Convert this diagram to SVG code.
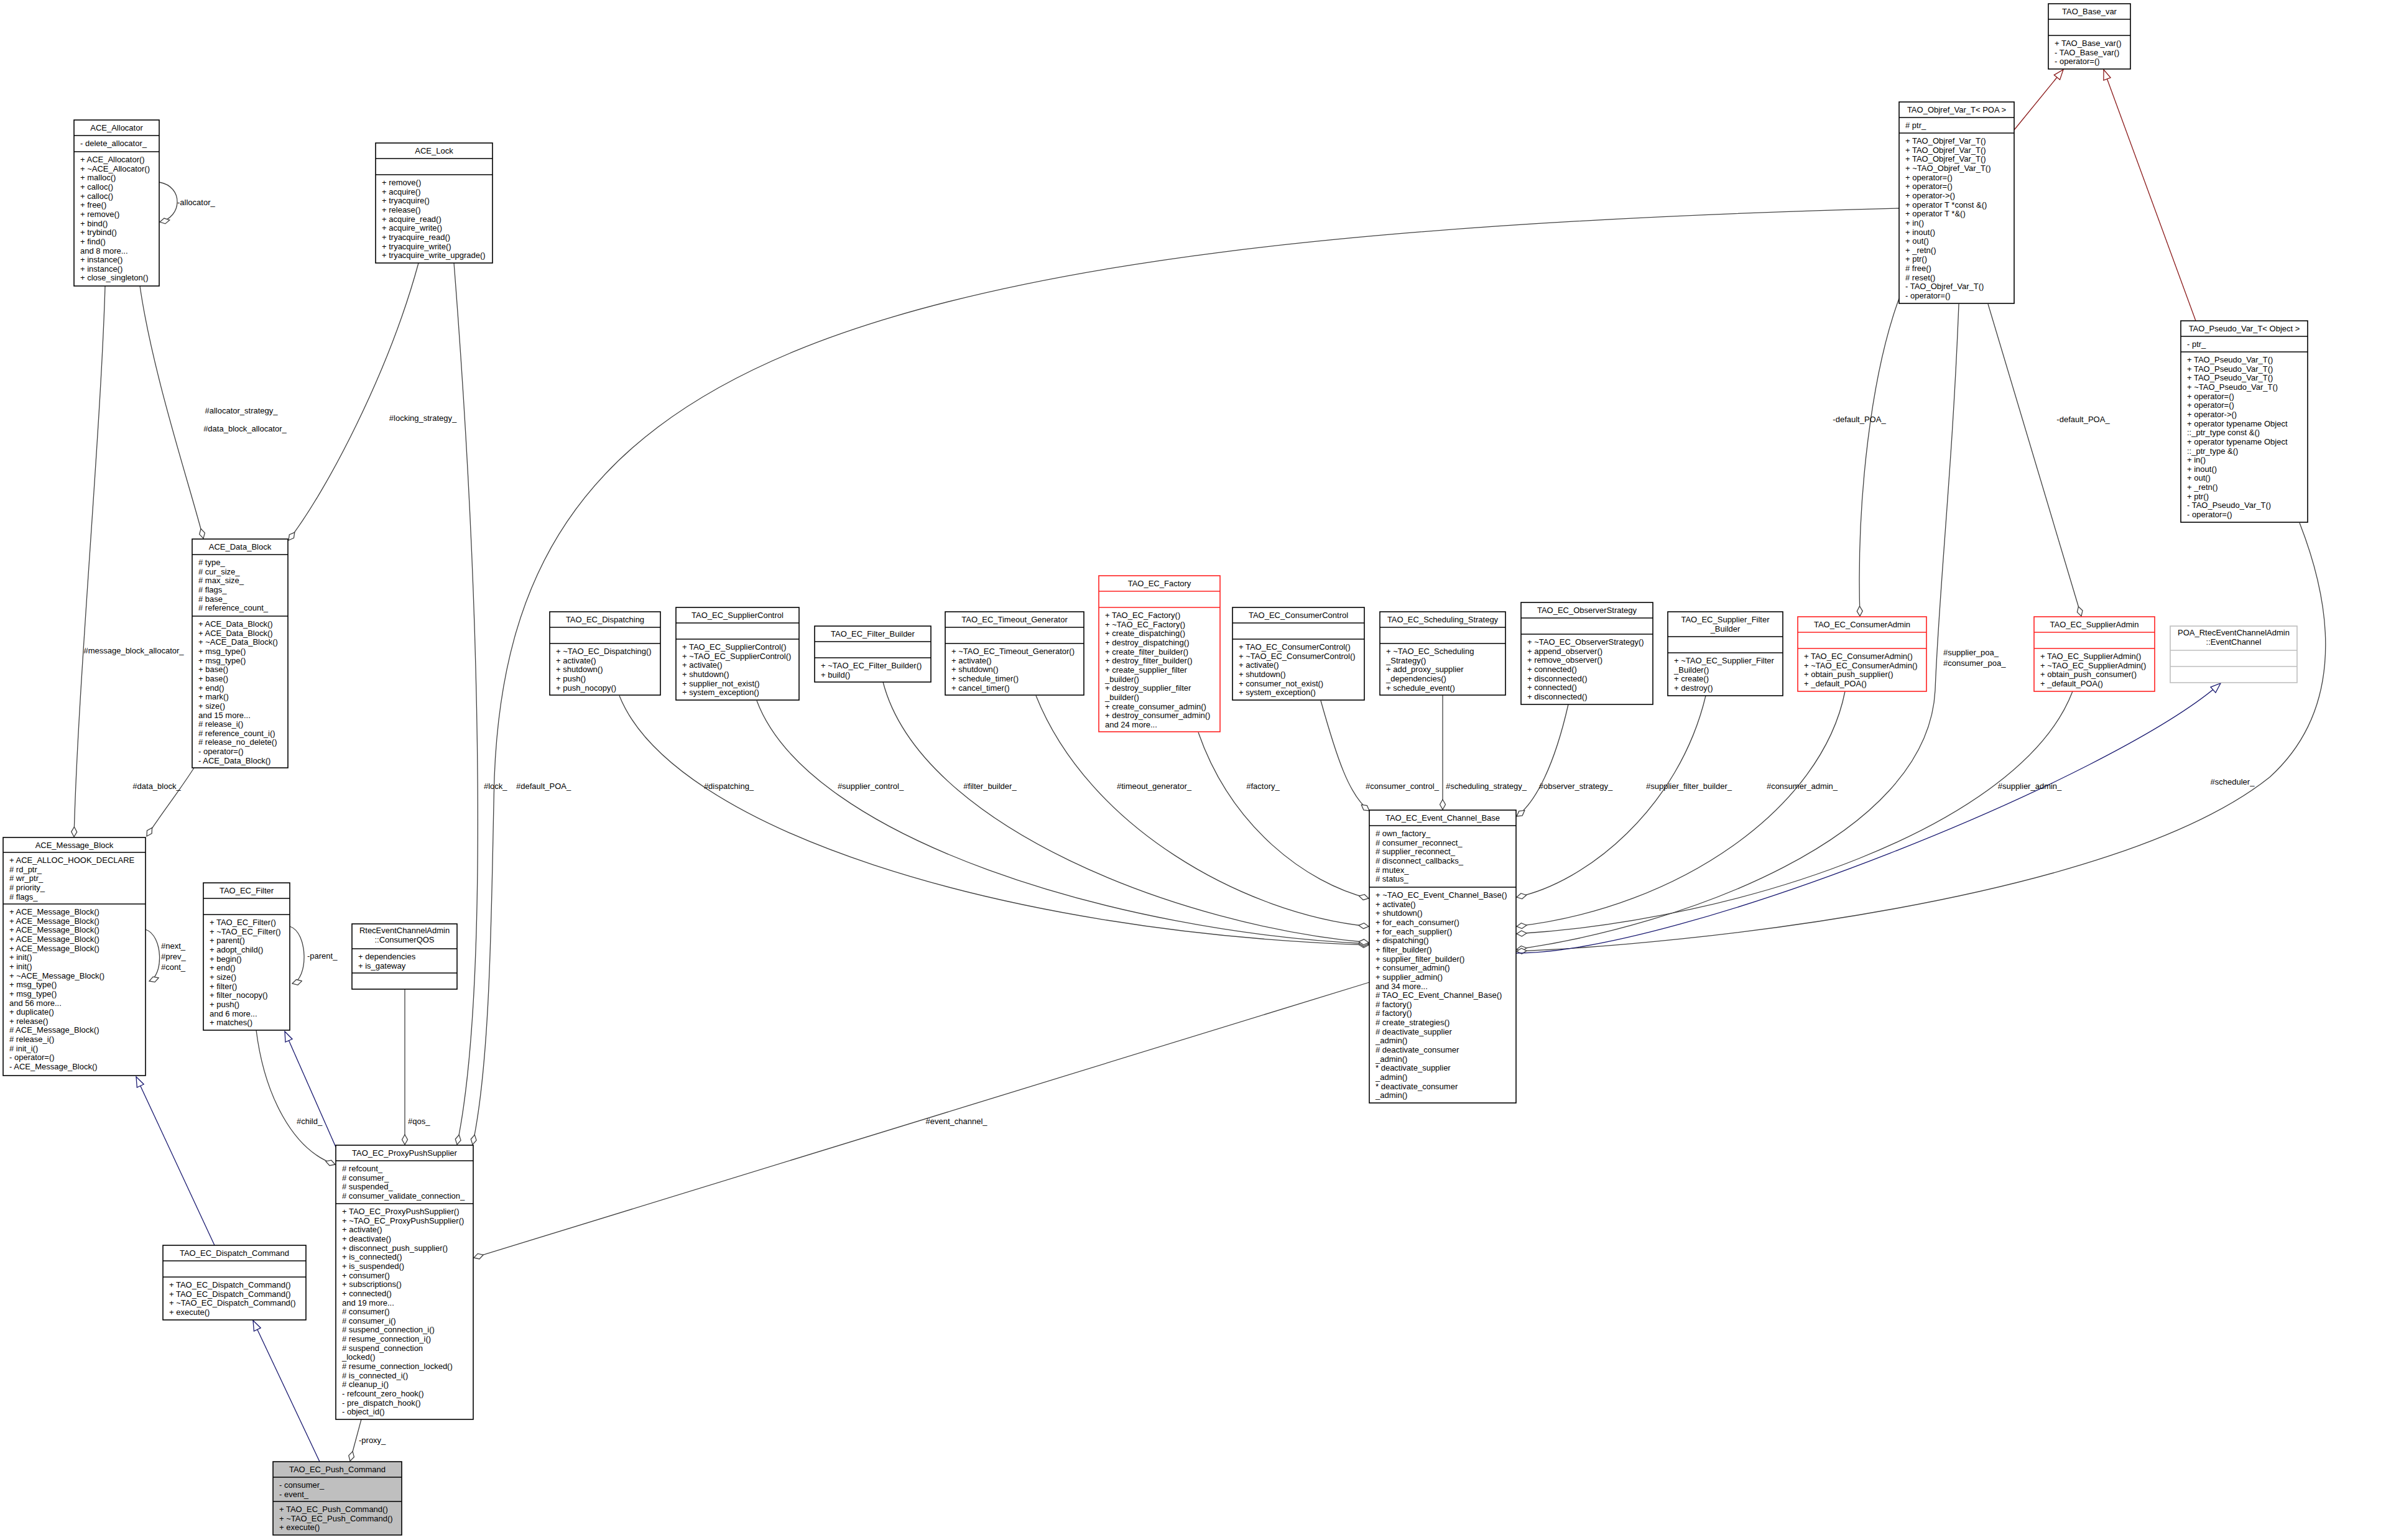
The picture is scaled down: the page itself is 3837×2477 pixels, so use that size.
<svg xmlns="http://www.w3.org/2000/svg" width="3837" height="2477" viewBox="0 0 3837 2477">
<style>
text{font-family:"Liberation Sans",Arial,sans-serif;font-size:13px;fill:#000}
.c{text-anchor:middle}
.n rect{fill:#fff;stroke:#000;stroke-width:1.6}
.n path{stroke:#000;stroke-width:1.6;fill:none}
.r rect{stroke:#ff2020}
.r path{stroke:#ff2020}
.gy rect{stroke:#bfbfbf}
.gy path{stroke:#bfbfbf}
.cur rect{fill:#bfbfbf}
.e path{fill:none;stroke:#404040;stroke-width:1.3}
.e path.b{stroke:#191970}
.e path.rd{stroke:#8b1a1a}
.e text{font-size:13px}
</style>
<defs>
<marker id="ad" markerUnits="userSpaceOnUse" markerWidth="18" markerHeight="12" viewBox="-1 -1 18 12" refX="16" refY="5" orient="auto"><path d="M0,5 L8,0.5 L16,5 L8,9.5 Z" fill="#fff" stroke="#404040" stroke-width="1.3"/></marker>
<marker id="tb" markerUnits="userSpaceOnUse" markerWidth="18" markerHeight="14" viewBox="-1 -1 18 14" refX="16" refY="6" orient="auto"><path d="M0,0 L16,6 L0,12 Z" fill="#fff" stroke="#191970" stroke-width="1.3"/></marker>
<marker id="tr" markerUnits="userSpaceOnUse" markerWidth="18" markerHeight="14" viewBox="-1 -1 18 14" refX="16" refY="6" orient="auto"><path d="M0,0 L16,6 L0,12 Z" fill="#fff" stroke="#8b1a1a" stroke-width="1.3"/></marker>
</defs>
<rect width="3837" height="2477" fill="#fff"/>

<g id="edges" class="e">
<path d="M256,293 C296,300 293,350 257,357" marker-end="url(#ad)"/>
<text x="285" y="330">-allocator_</text>
<path d="M225,460 C245,600 305,780 327,866" marker-end="url(#ad)"/>
<text class="c" x="388" y="665">#allocator_strategy_</text>
<text class="c" x="394" y="694">#data_block_allocator_</text>
<path d="M169,460 C162,700 125,1100 119,1346" marker-end="url(#ad)"/>
<text class="c" x="215" y="1051">#message_block_allocator_</text>
<path d="M673,423 C625,600 525,790 464,869" marker-end="url(#ad)"/>
<text class="c" x="680" y="677">#locking_strategy_</text>
<path d="M730,423 C775,1000 785,1600 735,1841" marker-end="url(#ad)"/>
<text x="778" y="1269">#lock_</text>
<path d="M3054,335 C1300,380 820,600 795,1250 C790,1450 790,1700 760,1841" marker-end="url(#ad)"/>
<text x="830" y="1269">#default_POA_</text>
<path d="M312,1235 C290,1270 255,1315 236,1345" marker-end="url(#ad)"/>
<text class="c" x="252" y="1269">#data_block_</text>
<path d="M234,1495 C263,1505 263,1570 240,1578" marker-end="url(#ad)"/>
<text x="259" y="1526">#next_</text>
<text x="259" y="1543">#prev_</text>
<text x="259" y="1560">#cont_</text>
<path d="M466,1490 C496,1500 496,1575 470,1582" marker-end="url(#ad)"/>
<text x="494" y="1542">-parent_</text>
<path d="M412,1657 C425,1760 470,1850 539,1873" marker-end="url(#ad)"/>
<text x="477" y="1808">#child_</text>
<path class="b" d="M540,1845 L458,1659" marker-end="url(#tb)"/>
<path d="M651,1591 L651,1841" marker-end="url(#ad)"/>
<text x="656" y="1808">#qos_</text>
<path class="b" d="M345,2003 L219,1732" marker-end="url(#tb)"/>
<path class="b" d="M514,2351 L407,2124" marker-end="url(#tb)"/>
<path d="M581,2283 L563,2350" marker-end="url(#ad)"/>
<text x="577" y="2321">-proxy_</text>
<path d="M2202,1580 L762,2023" marker-end="url(#ad)"/>
<text class="c" x="1538" y="1808">#event_channel_</text>
<path d="M3054,480 C3010,600 2985,800 2991,991" marker-end="url(#ad)"/>
<text class="c" x="2990" y="679">-default_POA_</text>
<path d="M3197,489 L3347,991" marker-end="url(#ad)"/>
<text class="c" x="3350" y="679">-default_POA_</text>
<path d="M3150,489 C3140,750 3118,950 3112,1110 C3100,1350 2700,1490 2439,1527" marker-end="url(#ad)"/>
<text x="3125" y="1054">#supplier_poa_</text>
<text x="3125" y="1071">#consumer_poa_</text>
<path d="M3698,841 C3760,1000 3760,1150 3650,1250 C3400,1450 2700,1520 2439,1530" marker-end="url(#ad)"/>
<text class="c" x="3590" y="1262">#scheduler_</text>
<path class="b" d="M2438,1533 C2700,1533 3400,1250 3571,1099" marker-end="url(#tb)"/>
<path class="rd" d="M3239,209 L3318,112" marker-end="url(#tr)"/>
<path class="rd" d="M3531,516 L3383,112" marker-end="url(#tr)"/>
<path d="M996,1119 C1080,1330 1600,1500 2201,1520" marker-end="url(#ad)"/>
<text class="c" x="1172" y="1269">#dispatching_</text>
<path d="M1217,1127 C1300,1350 1800,1500 2201,1518" marker-end="url(#ad)"/>
<text class="c" x="1400" y="1269">#supplier_control_</text>
<path d="M1420,1097 C1480,1330 1900,1490 2201,1516" marker-end="url(#ad)"/>
<text class="c" x="1592" y="1269">#filter_builder_</text>
<path d="M1666,1119 C1750,1330 2000,1470 2201,1490" marker-end="url(#ad)"/>
<text class="c" x="1856" y="1269">#timeout_generator_</text>
<path d="M1927,1178 C1980,1330 2100,1420 2201,1445" marker-end="url(#ad)"/>
<text class="c" x="2031" y="1269">#factory_</text>
<path d="M2124,1127 C2150,1220 2170,1280 2202,1304" marker-end="url(#ad)"/>
<text class="c" x="2255" y="1269">#consumer_control_</text>
<path d="M2320,1118 L2320,1302" marker-end="url(#ad)"/>
<text class="c" x="2390" y="1269">#scheduling_strategy_</text>
<path d="M2522,1133 C2500,1230 2470,1290 2439,1313" marker-end="url(#ad)"/>
<text class="c" x="2534" y="1269">#observer_strategy_</text>
<path d="M2743,1119 C2700,1300 2550,1420 2439,1443" marker-end="url(#ad)"/>
<text class="c" x="2716" y="1269">#supplier_filter_builder_</text>
<path d="M2967,1112 C2930,1300 2700,1460 2439,1490" marker-end="url(#ad)"/>
<text class="c" x="2898" y="1269">#consumer_admin_</text>
<path d="M3333,1112 C3250,1330 2800,1480 2439,1502" marker-end="url(#ad)"/>
<text class="c" x="3264" y="1269">#supplier_admin_</text>
</g>

<g id="ACE_Allocator" class="n">
<rect x="119" y="193" width="137" height="267"/>
<path d="M119,218 H256 M119,244 H256"/>
<text class="c" x="187.5" y="210">ACE_Allocator</text>
<text x="129" y="235">- delete_allocator_</text>
<text x="129" y="261"><tspan x="129" dy="0">+ ACE_Allocator()</tspan><tspan x="129" dy="14.65">+ ~ACE_Allocator()</tspan><tspan x="129" dy="14.65">+ malloc()</tspan><tspan x="129" dy="14.65">+ calloc()</tspan><tspan x="129" dy="14.65">+ calloc()</tspan><tspan x="129" dy="14.65">+ free()</tspan><tspan x="129" dy="14.65">+ remove()</tspan><tspan x="129" dy="14.65">+ bind()</tspan><tspan x="129" dy="14.65">+ trybind()</tspan><tspan x="129" dy="14.65">+ find()</tspan><tspan x="129" dy="14.65">and 8 more...</tspan><tspan x="129" dy="14.65">+ instance()</tspan><tspan x="129" dy="14.65">+ instance()</tspan><tspan x="129" dy="14.65">+ close_singleton()</tspan></text>
</g>

<g id="ACE_Lock" class="n">
<rect x="604" y="230" width="188" height="193"/>
<path d="M604,255 H792 M604,281 H792"/>
<text class="c" x="698" y="247">ACE_Lock</text>
<text x="614" y="298"><tspan x="614" dy="0">+ remove()</tspan><tspan x="614" dy="14.65">+ acquire()</tspan><tspan x="614" dy="14.65">+ tryacquire()</tspan><tspan x="614" dy="14.65">+ release()</tspan><tspan x="614" dy="14.65">+ acquire_read()</tspan><tspan x="614" dy="14.65">+ acquire_write()</tspan><tspan x="614" dy="14.65">+ tryacquire_read()</tspan><tspan x="614" dy="14.65">+ tryacquire_write()</tspan><tspan x="614" dy="14.65">+ tryacquire_write_upgrade()</tspan></text>
</g>

<g id="ACE_Data_Block" class="n">
<rect x="309" y="867" width="154" height="368"/>
<path d="M309,892 H463 M309,991 H463"/>
<text class="c" x="386" y="884">ACE_Data_Block</text>
<text x="319" y="909"><tspan x="319" dy="0"># type_</tspan><tspan x="319" dy="14.65"># cur_size_</tspan><tspan x="319" dy="14.65"># max_size_</tspan><tspan x="319" dy="14.65"># flags_</tspan><tspan x="319" dy="14.65"># base_</tspan><tspan x="319" dy="14.65"># reference_count_</tspan></text>
<text x="319" y="1008"><tspan x="319" dy="0">+ ACE_Data_Block()</tspan><tspan x="319" dy="14.65">+ ACE_Data_Block()</tspan><tspan x="319" dy="14.65">+ ~ACE_Data_Block()</tspan><tspan x="319" dy="14.65">+ msg_type()</tspan><tspan x="319" dy="14.65">+ msg_type()</tspan><tspan x="319" dy="14.65">+ base()</tspan><tspan x="319" dy="14.65">+ base()</tspan><tspan x="319" dy="14.65">+ end()</tspan><tspan x="319" dy="14.65">+ mark()</tspan><tspan x="319" dy="14.65">+ size()</tspan><tspan x="319" dy="14.65">and 15 more...</tspan><tspan x="319" dy="14.65"># release_i()</tspan><tspan x="319" dy="14.65"># reference_count_i()</tspan><tspan x="319" dy="14.65"># release_no_delete()</tspan><tspan x="319" dy="14.65">- operator=()</tspan><tspan x="319" dy="14.65">- ACE_Data_Block()</tspan></text>
</g>

<g id="ACE_Message_Block" class="n">
<rect x="5" y="1347" width="229" height="383"/>
<path d="M5,1371 H234 M5,1454 H234"/>
<text class="c" x="119.5" y="1364">ACE_Message_Block</text>
<text x="15" y="1388"><tspan x="15" dy="0">+ ACE_ALLOC_HOOK_DECLARE</tspan><tspan x="15" dy="14.65"># rd_ptr_</tspan><tspan x="15" dy="14.65"># wr_ptr_</tspan><tspan x="15" dy="14.65"># priority_</tspan><tspan x="15" dy="14.65"># flags_</tspan></text>
<text x="15" y="1471"><tspan x="15" dy="0">+ ACE_Message_Block()</tspan><tspan x="15" dy="14.65">+ ACE_Message_Block()</tspan><tspan x="15" dy="14.65">+ ACE_Message_Block()</tspan><tspan x="15" dy="14.65">+ ACE_Message_Block()</tspan><tspan x="15" dy="14.65">+ ACE_Message_Block()</tspan><tspan x="15" dy="14.65">+ init()</tspan><tspan x="15" dy="14.65">+ init()</tspan><tspan x="15" dy="14.65">+ ~ACE_Message_Block()</tspan><tspan x="15" dy="14.65">+ msg_type()</tspan><tspan x="15" dy="14.65">+ msg_type()</tspan><tspan x="15" dy="14.65">and 56 more...</tspan><tspan x="15" dy="14.65">+ duplicate()</tspan><tspan x="15" dy="14.65">+ release()</tspan><tspan x="15" dy="14.65"># ACE_Message_Block()</tspan><tspan x="15" dy="14.65"># release_i()</tspan><tspan x="15" dy="14.65"># init_i()</tspan><tspan x="15" dy="14.65">- operator=()</tspan><tspan x="15" dy="14.65">- ACE_Message_Block()</tspan></text>
</g>

<g id="TAO_EC_Filter" class="n">
<rect x="327" y="1420" width="139" height="237"/>
<path d="M327,1445 H466 M327,1471 H466"/>
<text class="c" x="396.5" y="1437">TAO_EC_Filter</text>
<text x="337" y="1488"><tspan x="337" dy="0">+ TAO_EC_Filter()</tspan><tspan x="337" dy="14.65">+ ~TAO_EC_Filter()</tspan><tspan x="337" dy="14.65">+ parent()</tspan><tspan x="337" dy="14.65">+ adopt_child()</tspan><tspan x="337" dy="14.65">+ begin()</tspan><tspan x="337" dy="14.65">+ end()</tspan><tspan x="337" dy="14.65">+ size()</tspan><tspan x="337" dy="14.65">+ filter()</tspan><tspan x="337" dy="14.65">+ filter_nocopy()</tspan><tspan x="337" dy="14.65">+ push()</tspan><tspan x="337" dy="14.65">and 6 more...</tspan><tspan x="337" dy="14.65">+ matches()</tspan></text>
</g>

<g id="ConsumerQOS" class="n">
<rect x="566" y="1486" width="169" height="105"/>
<path d="M566,1526 H735 M566,1565 H735"/>
<text class="c" x="650.5" y="1501">RtecEventChannelAdmin</text>
<text class="c" x="650.5" y="1516">::ConsumerQOS</text>
<text x="576" y="1543"><tspan x="576" dy="0">+ dependencies</tspan><tspan x="576" dy="14.65">+ is_gateway</tspan></text>
</g>

<g id="TAO_EC_ProxyPushSupplier" class="n">
<rect x="540" y="1842" width="221" height="441"/>
<path d="M540,1867 H761 M540,1936 H761"/>
<text class="c" x="650.5" y="1859">TAO_EC_ProxyPushSupplier</text>
<text x="550" y="1884"><tspan x="550" dy="0"># refcount_</tspan><tspan x="550" dy="14.65"># consumer_</tspan><tspan x="550" dy="14.65"># suspended_</tspan><tspan x="550" dy="14.65"># consumer_validate_connection_</tspan></text>
<text x="550" y="1953"><tspan x="550" dy="0">+ TAO_EC_ProxyPushSupplier()</tspan><tspan x="550" dy="14.65">+ ~TAO_EC_ProxyPushSupplier()</tspan><tspan x="550" dy="14.65">+ activate()</tspan><tspan x="550" dy="14.65">+ deactivate()</tspan><tspan x="550" dy="14.65">+ disconnect_push_supplier()</tspan><tspan x="550" dy="14.65">+ is_connected()</tspan><tspan x="550" dy="14.65">+ is_suspended()</tspan><tspan x="550" dy="14.65">+ consumer()</tspan><tspan x="550" dy="14.65">+ subscriptions()</tspan><tspan x="550" dy="14.65">+ connected()</tspan><tspan x="550" dy="14.65">and 19 more...</tspan><tspan x="550" dy="14.65"># consumer()</tspan><tspan x="550" dy="14.65"># consumer_i()</tspan><tspan x="550" dy="14.65"># suspend_connection_i()</tspan><tspan x="550" dy="14.65"># resume_connection_i()</tspan><tspan x="550" dy="14.65"># suspend_connection</tspan><tspan x="550" dy="14.65">_locked()</tspan><tspan x="550" dy="14.65"># resume_connection_locked()</tspan><tspan x="550" dy="14.65"># is_connected_i()</tspan><tspan x="550" dy="14.65"># cleanup_i()</tspan><tspan x="550" dy="14.65">- refcount_zero_hook()</tspan><tspan x="550" dy="14.65">- pre_dispatch_hook()</tspan><tspan x="550" dy="14.65">- object_id()</tspan></text>
</g>

<g id="TAO_EC_Dispatch_Command" class="n">
<rect x="262" y="2003" width="230" height="120"/>
<path d="M262,2028 H492 M262,2054 H492"/>
<text class="c" x="377" y="2020">TAO_EC_Dispatch_Command</text>
<text x="272" y="2071"><tspan x="272" dy="0">+ TAO_EC_Dispatch_Command()</tspan><tspan x="272" dy="14.65">+ TAO_EC_Dispatch_Command()</tspan><tspan x="272" dy="14.65">+ ~TAO_EC_Dispatch_Command()</tspan><tspan x="272" dy="14.65">+ execute()</tspan></text>
</g>

<g id="TAO_EC_Push_Command" class="n cur">
<rect x="439" y="2351" width="207" height="118"/>
<path d="M439,2376 H646 M439,2415 H646"/>
<text class="c" x="542.5" y="2368">TAO_EC_Push_Command</text>
<text x="449" y="2393"><tspan x="449" dy="0">- consumer_</tspan><tspan x="449" dy="14.65">- event_</tspan></text>
<text x="449" y="2432"><tspan x="449" dy="0">+ TAO_EC_Push_Command()</tspan><tspan x="449" dy="14.65">+ ~TAO_EC_Push_Command()</tspan><tspan x="449" dy="14.65">+ execute()</tspan></text>
</g>

<g id="TAO_EC_Event_Channel_Base" class="n">
<rect x="2202" y="1303" width="236" height="471"/>
<path d="M2202,1328 H2438 M2202,1427 H2438"/>
<text class="c" x="2320" y="1320">TAO_EC_Event_Channel_Base</text>
<text x="2212" y="1345"><tspan x="2212" dy="0"># own_factory_</tspan><tspan x="2212" dy="14.65"># consumer_reconnect_</tspan><tspan x="2212" dy="14.65"># supplier_reconnect_</tspan><tspan x="2212" dy="14.65"># disconnect_callbacks_</tspan><tspan x="2212" dy="14.65"># mutex_</tspan><tspan x="2212" dy="14.65"># status_</tspan></text>
<text x="2212" y="1444"><tspan x="2212" dy="0">+ ~TAO_EC_Event_Channel_Base()</tspan><tspan x="2212" dy="14.65">+ activate()</tspan><tspan x="2212" dy="14.65">+ shutdown()</tspan><tspan x="2212" dy="14.65">+ for_each_consumer()</tspan><tspan x="2212" dy="14.65">+ for_each_supplier()</tspan><tspan x="2212" dy="14.65">+ dispatching()</tspan><tspan x="2212" dy="14.65">+ filter_builder()</tspan><tspan x="2212" dy="14.65">+ supplier_filter_builder()</tspan><tspan x="2212" dy="14.65">+ consumer_admin()</tspan><tspan x="2212" dy="14.65">+ supplier_admin()</tspan><tspan x="2212" dy="14.65">and 34 more...</tspan><tspan x="2212" dy="14.65"># TAO_EC_Event_Channel_Base()</tspan><tspan x="2212" dy="14.65"># factory()</tspan><tspan x="2212" dy="14.65"># factory()</tspan><tspan x="2212" dy="14.65"># create_strategies()</tspan><tspan x="2212" dy="14.65"># deactivate_supplier</tspan><tspan x="2212" dy="14.65">_admin()</tspan><tspan x="2212" dy="14.65"># deactivate_consumer</tspan><tspan x="2212" dy="14.65">_admin()</tspan><tspan x="2212" dy="14.65">* deactivate_supplier</tspan><tspan x="2212" dy="14.65">_admin()</tspan><tspan x="2212" dy="14.65">* deactivate_consumer</tspan><tspan x="2212" dy="14.65">_admin()</tspan></text>
</g>

<g id="TAO_Objref_Var_T" class="n">
<rect x="3054" y="164" width="185" height="324"/>
<path d="M3054,189 H3239 M3054,214 H3239"/>
<text class="c" x="3146.5" y="181">TAO_Objref_Var_T&lt; POA &gt;</text>
<text x="3064" y="206"># ptr_</text>
<text x="3064" y="231"><tspan x="3064" dy="0">+ TAO_Objref_Var_T()</tspan><tspan x="3064" dy="14.65">+ TAO_Objref_Var_T()</tspan><tspan x="3064" dy="14.65">+ TAO_Objref_Var_T()</tspan><tspan x="3064" dy="14.65">+ ~TAO_Objref_Var_T()</tspan><tspan x="3064" dy="14.65">+ operator=()</tspan><tspan x="3064" dy="14.65">+ operator=()</tspan><tspan x="3064" dy="14.65">+ operator-&gt;()</tspan><tspan x="3064" dy="14.65">+ operator T *const &amp;()</tspan><tspan x="3064" dy="14.65">+ operator T *&amp;()</tspan><tspan x="3064" dy="14.65">+ in()</tspan><tspan x="3064" dy="14.65">+ inout()</tspan><tspan x="3064" dy="14.65">+ out()</tspan><tspan x="3064" dy="14.65">+ _retn()</tspan><tspan x="3064" dy="14.65">+ ptr()</tspan><tspan x="3064" dy="14.65"># free()</tspan><tspan x="3064" dy="14.65"># reset()</tspan><tspan x="3064" dy="14.65">- TAO_Objref_Var_T()</tspan><tspan x="3064" dy="14.65">- operator=()</tspan></text>
</g>

<g id="TAO_Base_var" class="n">
<rect x="3294" y="6" width="132" height="105"/>
<path d="M3294,31 H3426 M3294,57 H3426"/>
<text class="c" x="3360" y="23">TAO_Base_var</text>
<text x="3304" y="74"><tspan x="3304" dy="0">+ TAO_Base_var()</tspan><tspan x="3304" dy="14.65">- TAO_Base_var()</tspan><tspan x="3304" dy="14.65">- operator=()</tspan></text>
</g>

<g id="TAO_Pseudo_Var_T" class="n">
<rect x="3507" y="516" width="204" height="324"/>
<path d="M3507,541 H3711 M3507,566 H3711"/>
<text class="c" x="3609" y="533">TAO_Pseudo_Var_T&lt; Object &gt;</text>
<text x="3517" y="558">- ptr_</text>
<text x="3517" y="583"><tspan x="3517" dy="0">+ TAO_Pseudo_Var_T()</tspan><tspan x="3517" dy="14.65">+ TAO_Pseudo_Var_T()</tspan><tspan x="3517" dy="14.65">+ TAO_Pseudo_Var_T()</tspan><tspan x="3517" dy="14.65">+ ~TAO_Pseudo_Var_T()</tspan><tspan x="3517" dy="14.65">+ operator=()</tspan><tspan x="3517" dy="14.65">+ operator=()</tspan><tspan x="3517" dy="14.65">+ operator-&gt;()</tspan><tspan x="3517" dy="14.65">+ operator typename Object</tspan><tspan x="3517" dy="14.65">::_ptr_type const &amp;()</tspan><tspan x="3517" dy="14.65">+ operator typename Object</tspan><tspan x="3517" dy="14.65">::_ptr_type &amp;()</tspan><tspan x="3517" dy="14.65">+ in()</tspan><tspan x="3517" dy="14.65">+ inout()</tspan><tspan x="3517" dy="14.65">+ out()</tspan><tspan x="3517" dy="14.65">+ _retn()</tspan><tspan x="3517" dy="14.65">+ ptr()</tspan><tspan x="3517" dy="14.65">- TAO_Pseudo_Var_T()</tspan><tspan x="3517" dy="14.65">- operator=()</tspan></text>
</g>

<g id="TAO_EC_SupplierAdmin" class="n r">
<rect x="3271" y="992" width="194" height="120"/>
<path d="M3271,1017 H3465 M3271,1043 H3465"/>
<text class="c" x="3368" y="1009">TAO_EC_SupplierAdmin</text>
<text x="3281" y="1060"><tspan x="3281" dy="0">+ TAO_EC_SupplierAdmin()</tspan><tspan x="3281" dy="14.65">+ ~TAO_EC_SupplierAdmin()</tspan><tspan x="3281" dy="14.65">+ obtain_push_consumer()</tspan><tspan x="3281" dy="14.65">+ _default_POA()</tspan></text>
</g>

<g id="POA_EventChannel" class="n gy">
<rect x="3490" y="1007" width="204" height="91"/>
<path d="M3490,1046 H3694 M3490,1072 H3694"/>
<text class="c" x="3592" y="1022">POA_RtecEventChannelAdmin</text>
<text class="c" x="3592" y="1037">::EventChannel</text>
</g>

<g id="TAO_EC_ConsumerAdmin" class="n r">
<rect x="2891" y="992" width="207" height="120"/>
<path d="M2891,1017 H3098 M2891,1043 H3098"/>
<text class="c" x="2994.5" y="1009">TAO_EC_ConsumerAdmin</text>
<text x="2901" y="1060"><tspan x="2901" dy="0">+ TAO_EC_ConsumerAdmin()</tspan><tspan x="2901" dy="14.65">+ ~TAO_EC_ConsumerAdmin()</tspan><tspan x="2901" dy="14.65">+ obtain_push_supplier()</tspan><tspan x="2901" dy="14.65">+ _default_POA()</tspan></text>
</g>

<g id="TAO_EC_Dispatching" class="n">
<rect x="884" y="984" width="178" height="134"/>
<path d="M884,1009 H1062 M884,1035 H1062"/>
<text class="c" x="973" y="1001">TAO_EC_Dispatching</text>
<text x="894" y="1052"><tspan x="894" dy="0">+ ~TAO_EC_Dispatching()</tspan><tspan x="894" dy="14.65">+ activate()</tspan><tspan x="894" dy="14.65">+ shutdown()</tspan><tspan x="894" dy="14.65">+ push()</tspan><tspan x="894" dy="14.65">+ push_nocopy()</tspan></text>
</g>

<g id="TAO_EC_SupplierControl" class="n">
<rect x="1087" y="977" width="198" height="149"/>
<path d="M1087,1002 H1285 M1087,1028 H1285"/>
<text class="c" x="1186" y="994">TAO_EC_SupplierControl</text>
<text x="1097" y="1045"><tspan x="1097" dy="0">+ TAO_EC_SupplierControl()</tspan><tspan x="1097" dy="14.65">+ ~TAO_EC_SupplierControl()</tspan><tspan x="1097" dy="14.65">+ activate()</tspan><tspan x="1097" dy="14.65">+ shutdown()</tspan><tspan x="1097" dy="14.65">+ supplier_not_exist()</tspan><tspan x="1097" dy="14.65">+ system_exception()</tspan></text>
</g>

<g id="TAO_EC_Filter_Builder" class="n">
<rect x="1310" y="1007" width="187" height="90"/>
<path d="M1310,1032 H1497 M1310,1058 H1497"/>
<text class="c" x="1403.5" y="1024">TAO_EC_Filter_Builder</text>
<text x="1320" y="1075"><tspan x="1320" dy="0">+ ~TAO_EC_Filter_Builder()</tspan><tspan x="1320" dy="14.65">+ build()</tspan></text>
</g>

<g id="TAO_EC_Timeout_Generator" class="n">
<rect x="1520" y="984" width="223" height="134"/>
<path d="M1520,1009 H1743 M1520,1035 H1743"/>
<text class="c" x="1631.5" y="1001">TAO_EC_Timeout_Generator</text>
<text x="1530" y="1052"><tspan x="1530" dy="0">+ ~TAO_EC_Timeout_Generator()</tspan><tspan x="1530" dy="14.65">+ activate()</tspan><tspan x="1530" dy="14.65">+ shutdown()</tspan><tspan x="1530" dy="14.65">+ schedule_timer()</tspan><tspan x="1530" dy="14.65">+ cancel_timer()</tspan></text>
</g>

<g id="TAO_EC_Factory" class="n r">
<rect x="1767" y="926" width="195" height="251"/>
<path d="M1767,951 H1962 M1767,977 H1962"/>
<text class="c" x="1864.5" y="943">TAO_EC_Factory</text>
<text x="1777" y="994"><tspan x="1777" dy="0">+ TAO_EC_Factory()</tspan><tspan x="1777" dy="14.65">+ ~TAO_EC_Factory()</tspan><tspan x="1777" dy="14.65">+ create_dispatching()</tspan><tspan x="1777" dy="14.65">+ destroy_dispatching()</tspan><tspan x="1777" dy="14.65">+ create_filter_builder()</tspan><tspan x="1777" dy="14.65">+ destroy_filter_builder()</tspan><tspan x="1777" dy="14.65">+ create_supplier_filter</tspan><tspan x="1777" dy="14.65">_builder()</tspan><tspan x="1777" dy="14.65">+ destroy_supplier_filter</tspan><tspan x="1777" dy="14.65">_builder()</tspan><tspan x="1777" dy="14.65">+ create_consumer_admin()</tspan><tspan x="1777" dy="14.65">+ destroy_consumer_admin()</tspan><tspan x="1777" dy="14.65">and 24 more...</tspan></text>
</g>

<g id="TAO_EC_ConsumerControl" class="n">
<rect x="1982" y="977" width="212" height="149"/>
<path d="M1982,1002 H2194 M1982,1028 H2194"/>
<text class="c" x="2088" y="994">TAO_EC_ConsumerControl</text>
<text x="1992" y="1045"><tspan x="1992" dy="0">+ TAO_EC_ConsumerControl()</tspan><tspan x="1992" dy="14.65">+ ~TAO_EC_ConsumerControl()</tspan><tspan x="1992" dy="14.65">+ activate()</tspan><tspan x="1992" dy="14.65">+ shutdown()</tspan><tspan x="1992" dy="14.65">+ consumer_not_exist()</tspan><tspan x="1992" dy="14.65">+ system_exception()</tspan></text>
</g>

<g id="TAO_EC_Scheduling_Strategy" class="n">
<rect x="2219" y="984" width="202" height="134"/>
<path d="M2219,1009 H2421 M2219,1035 H2421"/>
<text class="c" x="2320" y="1001">TAO_EC_Scheduling_Strategy</text>
<text x="2229" y="1052"><tspan x="2229" dy="0">+ ~TAO_EC_Scheduling</tspan><tspan x="2229" dy="14.65">_Strategy()</tspan><tspan x="2229" dy="14.65">+ add_proxy_supplier</tspan><tspan x="2229" dy="14.65">_dependencies()</tspan><tspan x="2229" dy="14.65">+ schedule_event()</tspan></text>
</g>

<g id="TAO_EC_ObserverStrategy" class="n">
<rect x="2446" y="969" width="212" height="164"/>
<path d="M2446,994 H2658 M2446,1020 H2658"/>
<text class="c" x="2552" y="986">TAO_EC_ObserverStrategy</text>
<text x="2456" y="1037"><tspan x="2456" dy="0">+ ~TAO_EC_ObserverStrategy()</tspan><tspan x="2456" dy="14.65">+ append_observer()</tspan><tspan x="2456" dy="14.65">+ remove_observer()</tspan><tspan x="2456" dy="14.65">+ connected()</tspan><tspan x="2456" dy="14.65">+ disconnected()</tspan><tspan x="2456" dy="14.65">+ connected()</tspan><tspan x="2456" dy="14.65">+ disconnected()</tspan></text>
</g>

<g id="TAO_EC_Supplier_Filter_Builder" class="n">
<rect x="2682" y="984" width="185" height="135"/>
<path d="M2682,1024 H2867 M2682,1050 H2867"/>
<text class="c" x="2774.5" y="1001">TAO_EC_Supplier_Filter</text>
<text class="c" x="2774.5" y="1016">_Builder</text>
<text x="2692" y="1067"><tspan x="2692" dy="0">+ ~TAO_EC_Supplier_Filter</tspan><tspan x="2692" dy="14.65">_Builder()</tspan><tspan x="2692" dy="14.65">+ create()</tspan><tspan x="2692" dy="14.65">+ destroy()</tspan></text>
</g>
</svg>
